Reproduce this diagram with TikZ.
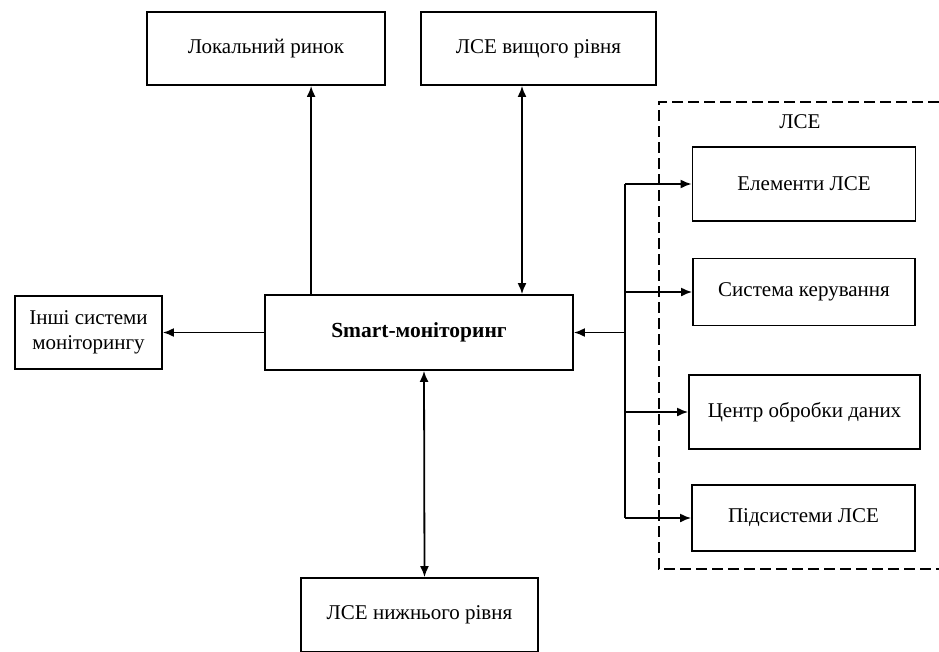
\documentclass[tikz,border=0pt]{standalone}
\usepackage{fontspec}
\setmainfont{Liberation Serif}
\usetikzlibrary{arrows.meta}
\tikzstyle{block} = [rectangle, draw=black, line width=1.8pt, text centered, inner sep=0pt, font=\fontsize{21}{25}\selectfont]
\tikzstyle{arrow} = [line width=1.8pt, -{Latex[length=11pt,width=9pt]}]
\tikzstyle{dblarrow} = [line width=1.8pt, {Latex[length=11pt,width=9pt]}-{Latex[length=11pt,width=9pt]}]
\tikzstyle{frame} = [line width=1.8pt, dash pattern=on 11pt off 5pt]

\begin{document}
\begin{tikzpicture}[x=1pt, y=-1pt]
\useasboundingbox (0,0) rectangle (939,651);

%Centre==============================================
\node (smart) [block, minimum width=308pt, minimum height=75pt, font=\fontsize{21.5}{25}\selectfont\bfseries] at (419,332.5) {Smart-моніторинг};

%Top row==============================================
\node (lok) [block, minimum width=238pt, minimum height=73pt] at (266,48.5) {Локальний ринок};
\node (vys) [block, minimum width=235pt, minimum height=73pt] at (538.5,48.5) {ЛСЕ вищого рівня};

%Left and bottom======================================
\node (inshi) [block, minimum width=147pt, minimum height=73pt, align=center] at (88.5,332.5) {Інші системи\\моніторингу};
\node (niz) [block, minimum width=237pt, minimum height=74pt] at (419.5,615) {ЛСЕ нижнього рівня};

%LSE group=============================================
\draw [frame] (939,102) -- (659,102) -- (659,569) -- (939,569);
\node (lse) [font=\fontsize{21}{25}\selectfont] at (800,122) {ЛСЕ};
\node (elem) [block, minimum width=223pt, minimum height=74pt] at (804,184) {Елементи ЛСЕ};
\node (sys) [block, minimum width=222pt, minimum height=67pt] at (804,292) {Система керування};
\node (centr) [block, minimum width=231pt, minimum height=74pt] at (804.5,412) {Центр обробки даних};
\node (subs) [block, minimum width=223pt, minimum height=66pt] at (803.5,518) {Підсистеми ЛСЕ};

%Links==============================================
\draw [arrow] ([xshift=47pt]smart.north west) coordinate (up) -- (up |- lok.south);
\draw [dblarrow] (vys.south -| 522,0) -- (smart.north -| 522,0);
\draw [dblarrow] ([xshift=5pt]smart.south) -- ([xshift=5pt]niz.north);
\draw [arrow] (smart.west) -- (inshi.east);
\coordinate (bus) at (625,332.5);
\draw [arrow] (bus) -- (smart.east);
\draw [line width=1.8pt] (bus |- elem.west) -- (bus |- subs.west);
\foreach \n in {elem, sys, centr, subs}
  \draw [arrow] (bus |- \n.west) -- (\n.west);
\end{tikzpicture}
\end{document}
